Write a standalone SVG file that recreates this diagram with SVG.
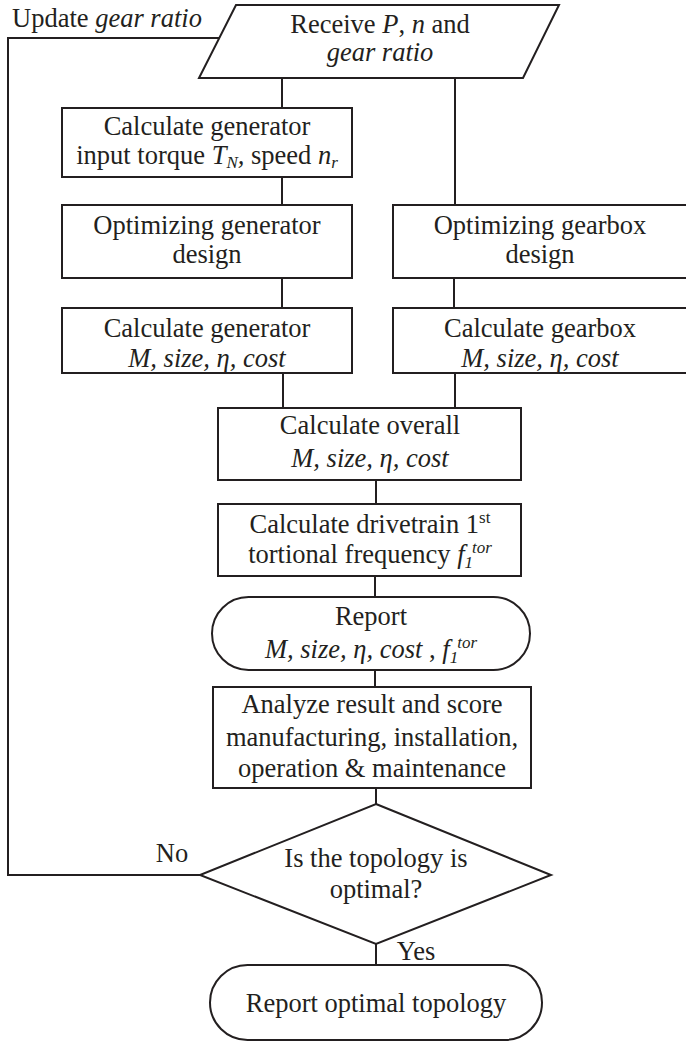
<svg xmlns="http://www.w3.org/2000/svg" width="686" height="1043" viewBox="0 0 686 1043">
<style>
.s{fill:#fff;stroke:#231f20;stroke-width:2}
.c{fill:none;stroke:#231f20;stroke-width:2}
text{font-family:"Liberation Serif","Times New Roman",serif;font-size:26.5px;fill:#231f20;text-anchor:middle}
.i{font-style:italic}
.sm{font-size:17px}
</style>
<rect width="686" height="1043" fill="#fff"/>
<g id="connectors">
<path class="c" d="M282 78V108M282 177V205M282 278V308M283 373V408M455 78V205M454 278V308M455 373V408M376 480V504M375 576V597M375 670V687M376 788V804M376 944V965"/>
<path class="c" d="M200 875H8V38H219"/>
<text x="12" y="27" style="text-anchor:start">Update <tspan class="i">gear ratio</tspan></text>
<text x="172" y="862">No</text>
<text x="416" y="960">Yes</text>
</g>
<g id="start">
<polygon class="s" points="236,5 559,5 523,78 199,78"/>
<text x="380" y="33">Receive <tspan class="i">P</tspan>, <tspan class="i">n</tspan> and</text>
<text x="380" y="61" class="i">gear ratio</text>
</g>
<g id="torque">
<rect class="s" x="62" y="108" width="290" height="69"/>
<text x="207" y="135">Calculate generator</text>
<text x="207" y="164">input torque <tspan class="i">T</tspan><tspan class="i sm" dy="4">N</tspan><tspan class="i" dy="-4">,</tspan> speed <tspan class="i">n</tspan><tspan class="i sm" dy="4">r</tspan></text>
</g>
<g id="optgen">
<rect class="s" x="62" y="205" width="290" height="73"/>
<text x="207" y="234">Optimizing generator</text>
<text x="207" y="263">design</text>
</g>
<g id="calcgen">
<rect class="s" x="62" y="308" width="290" height="65"/>
<text x="207" y="337">Calculate generator</text>
<text x="207" y="367" class="i">M, size, η, cost</text>
</g>
<g id="optgear">
<rect class="s" x="393" y="205" width="300" height="73"/>
<text x="540" y="234">Optimizing gearbox</text>
<text x="540" y="263">design</text>
</g>
<g id="calcgear">
<rect class="s" x="393" y="308" width="300" height="65"/>
<text x="540" y="337">Calculate gearbox</text>
<text x="540" y="367" class="i">M, size, η, cost</text>
</g>
<g id="overall">
<rect class="s" x="218" y="408" width="303" height="72"/>
<text x="370" y="434">Calculate overall</text>
<text x="370" y="467" class="i">M, size, η, cost</text>
</g>
<g id="freq">
<rect class="s" x="218" y="504" width="303" height="72"/>
<text x="370" y="533">Calculate drivetrain 1<tspan class="sm" dy="-10">st</tspan></text>
<text x="370" y="563">tortional frequency <tspan class="i">f</tspan><tspan class="i sm" dy="5">1</tspan><tspan class="i sm" dx="-1" dy="-15">tor</tspan></text>
</g>
<g id="report">
<rect class="s" x="212" y="597" width="318" height="73" rx="36.5"/>
<text x="371" y="625">Report</text>
<text x="371" y="658"><tspan class="i">M, size, η, cost</tspan> , <tspan class="i">f</tspan><tspan class="i sm" dy="5">1</tspan><tspan class="i sm" dx="-1" dy="-15">tor</tspan></text>
</g>
<g id="analyze">
<rect class="s" x="213" y="687" width="318" height="101"/>
<text x="372" y="713">Analyze result and score</text>
<text x="372" y="746">manufacturing, installation,</text>
<text x="372" y="777">operation &amp; maintenance</text>
</g>
<g id="decision">
<polygon class="s" points="376,804 551,875 376,944 200,875"/>
<text x="376" y="867">Is the topology is</text>
<text x="376" y="898">optimal?</text>
</g>
<g id="end">
<rect class="s" x="210" y="965" width="332" height="75" rx="37.5"/>
<text x="376" y="1012">Report optimal topology</text>
</g>
</svg>
